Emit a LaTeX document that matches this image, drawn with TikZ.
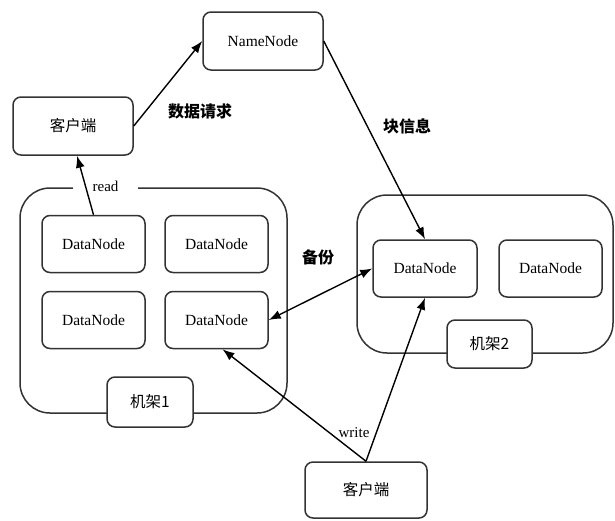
\documentclass[tikz,border=0pt]{standalone}
\usepackage{fontspec}
\setmainfont{Liberation Serif}
\newfontfamily\cjk{Noto Sans CJK SC}
\usetikzlibrary{arrows.meta}
\begin{document}
\begin{tikzpicture}[x=1pt,y=-1pt,
  box/.style={draw=black!80,line width=1.5pt,rounded corners=8pt,fill=white,
    inner sep=0pt,font=\fontsize{15.5}{18}\selectfont},
  rack/.style={draw=black!80,line width=1.5pt,rounded corners=30pt,inner sep=0pt},
  dn/.style={box,minimum width=103pt,minimum height=57pt},
  lbl/.style={font=\cjk\bfseries\fontsize{16}{19}\selectfont,inner sep=1pt},
  tag/.style={font=\fontsize{15}{18}\selectfont,inner sep=1pt},
  arr/.style={-{Latex[length=12pt,width=9pt]},line width=1.4pt,black},
  darr/.style={{Latex[length=12pt,width=9pt]}-{Latex[length=12pt,width=9pt]},line width=1.4pt,black}]
\useasboundingbox (0,0) rectangle (615,520);

% name server and the reading client
\node[box,minimum width=120pt,minimum height=58pt] (nn) at (263,41) {NameNode};
\node[box,minimum width=120pt,minimum height=58pt] (c1) at (73,126) {\cjk 客户端};

% rack 1
\node[rack,minimum width=267pt,minimum height=225pt] (rack1) at (153.5,300.5) {};
\node[dn] (dn11) at (93.5,244) {DataNode};
\node[dn] (dn12) at (216.5,244) {DataNode};
\node[dn] (dn21) at (93.5,320) {DataNode};
\node[dn] (dn22) at (216.5,320) {DataNode};
\node[box,minimum width=86pt,minimum height=50pt] (r1lbl) at (150,402) {\cjk 机架1};

% rack 2
\node[rack,minimum width=256pt,minimum height=158pt] (rack2) at (485,274) {};
\node[dn,minimum width=104pt] (rdn1) at (425,268.5) {DataNode};
\node[dn] (rdn2) at (550.5,268.5) {DataNode};
\node[box,minimum width=85pt,minimum height=48pt] (r2lbl) at (489.5,344) {\cjk 机架2};

% writing client
\node[box,minimum width=122pt,minimum height=56pt] (c2) at (366,490) {\cjk 客户端};

% labels
\node[tag,fill=white,minimum width=65pt,minimum height=14pt] (readlbl) at (105.5,186) {\hspace*{0pt}read};
\node[lbl] (req) at (200,111) {数据请求};
\node[lbl] (blk) at (407,126) {块信息};
\node[lbl] (bak) at (318,257) {备份};
\node[tag] (wlbl) at (354,433) {write};

% connectors
\draw[arr] (c1.east) -- (nn.west);
\draw[arr] (nn.east) -- (rdn1.north);
\draw[arr] (dn11.north) -- ([xshift=4pt]c1.south);
\draw[darr] (dn22.east) -- (rdn1.west);
\draw[arr] (c2.north) -- ([xshift=6pt]dn22.south);
\draw[arr] (c2.north) -- (rdn1.south);
\end{tikzpicture}
\end{document}
